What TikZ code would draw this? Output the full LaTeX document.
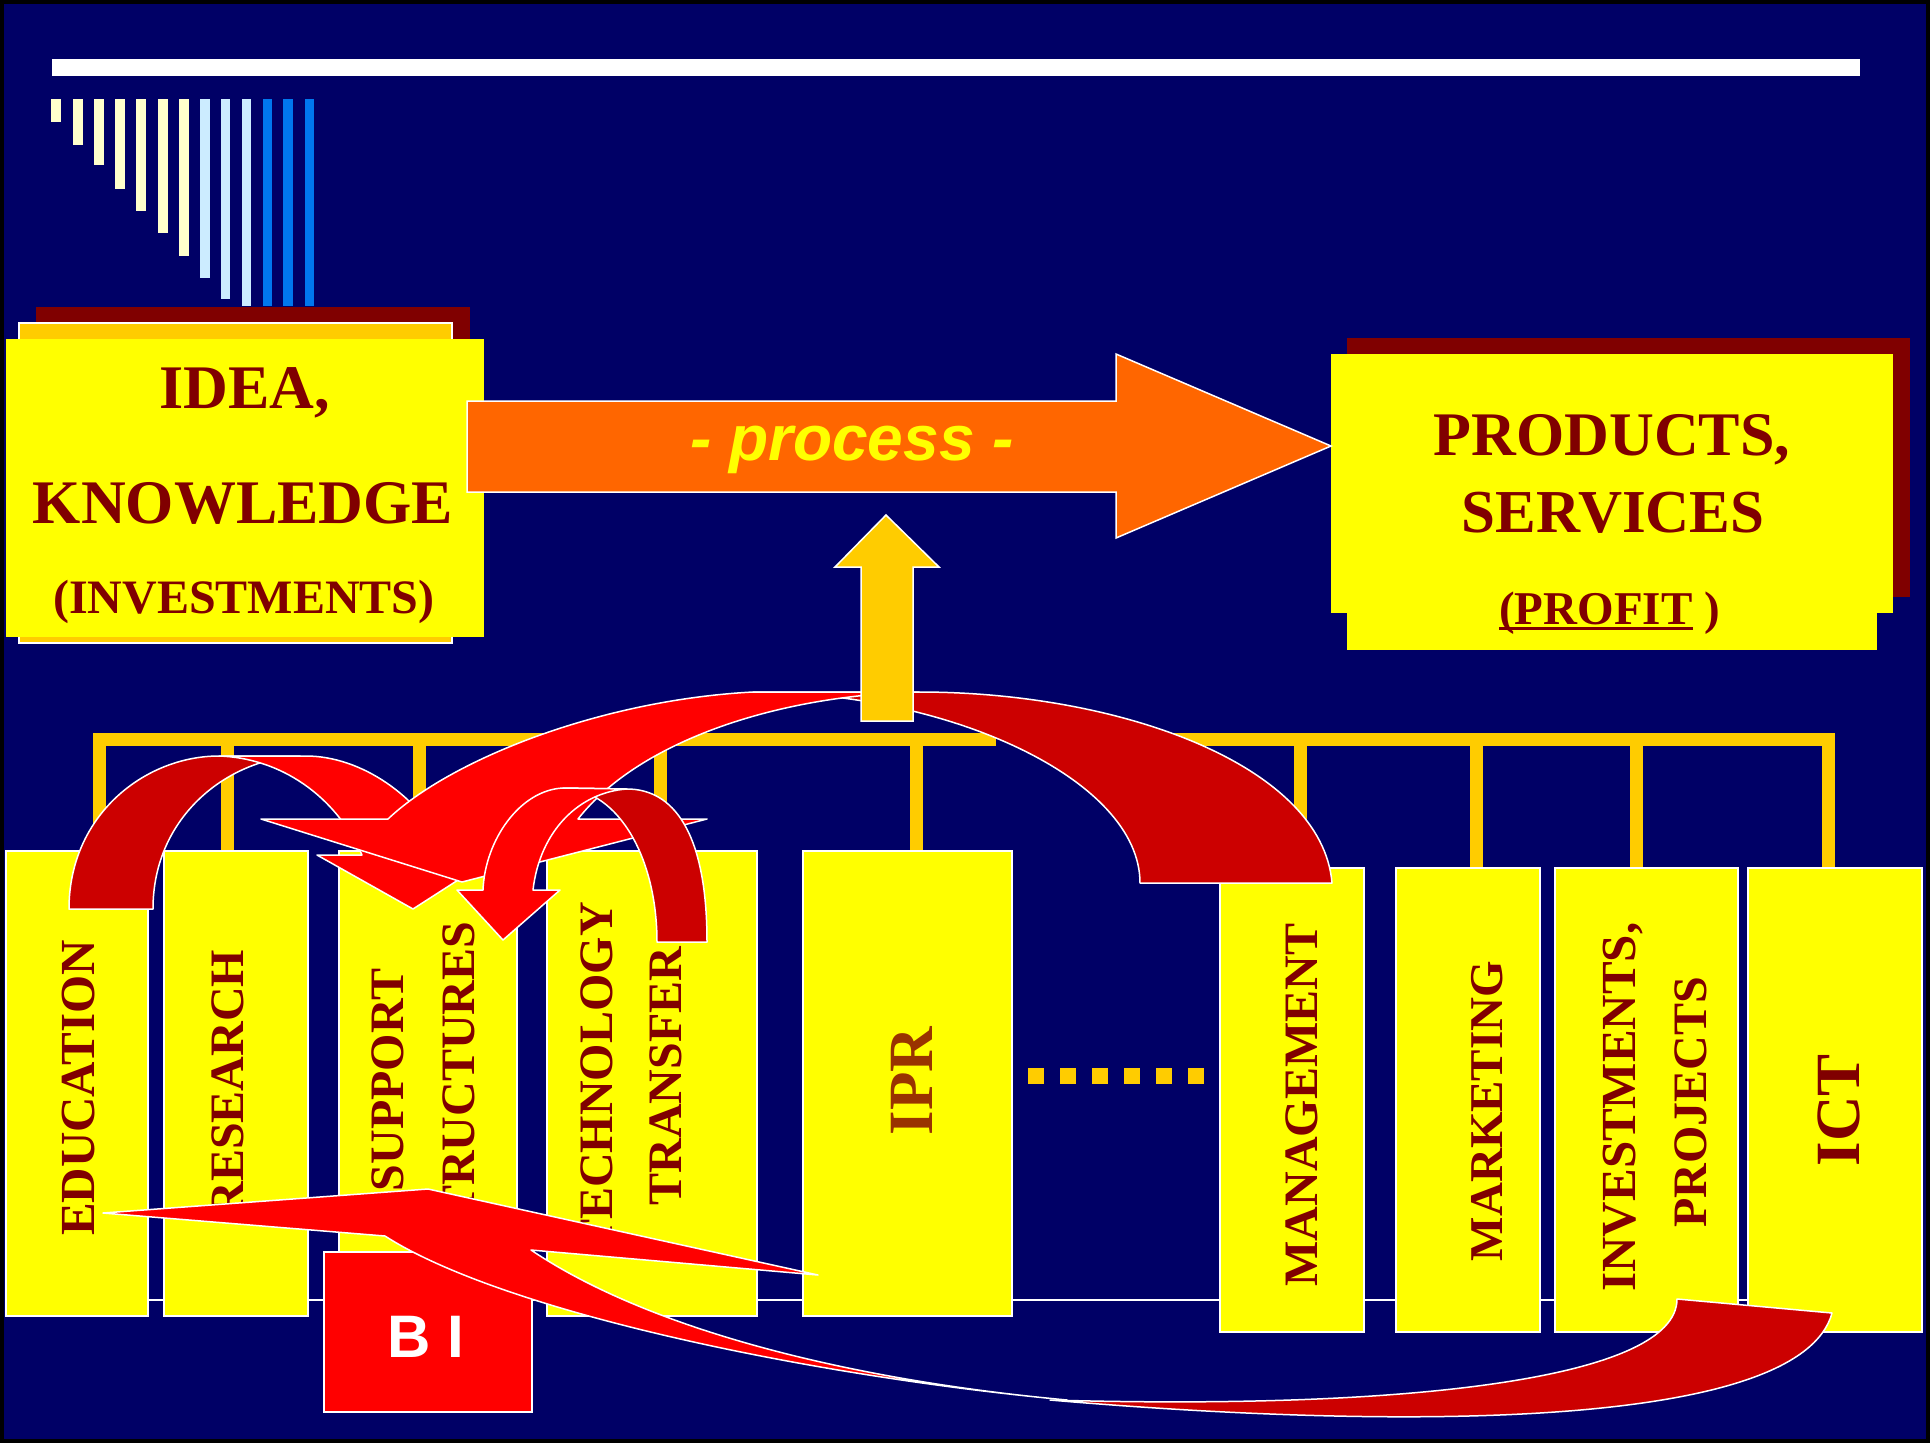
\documentclass[tikz,border=0pt]{standalone}
\usepackage{fontspec}
\setmainfont{Liberation Serif}
\newfontfamily\arialf{Liberation Sans}
\usetikzlibrary{fit}
\definecolor{navy}{HTML}{000066}
\definecolor{yel}{HTML}{FFFF00}
\definecolor{gold}{HTML}{FFCC00}
\definecolor{maroon}{HTML}{800000}
\definecolor{iprbrown}{HTML}{993300}
\definecolor{orng}{HTML}{FF6600}
\definecolor{rbright}{HTML}{FF0000}
\definecolor{rdark}{HTML}{CC0000}
\definecolor{lyel}{HTML}{FFFFCC}
\definecolor{lblue}{HTML}{CCECFF}
\definecolor{mblue}{HTML}{0077EE}
\begin{document}
\begin{tikzpicture}[x=1pt,y=-1pt,
  ybox/.style={fill=yel, draw=white, line width=1.5pt, inner sep=0pt},
  vlab/.style={rotate=90, anchor=base, text=maroon, inner sep=0pt, font=\fontsize{#1}{#1}\selectfont\bfseries},
  ttl/.style={anchor=base, text=maroon, inner sep=0pt, font=\fontsize{#1}{#1}\selectfont\bfseries},
  busv/.style={draw=gold, line width=13pt},
  arrdark/.style={fill=rdark, draw=white, line width=1.5pt, line join=round},
  arrbright/.style={fill=rbright, draw=white, line width=1.5pt, line join=round},
  wline/.style={fill=orng, draw=white, line width=1.5pt}]
\useasboundingbox (0,0) rectangle (1930,1443);
\fill[navy] (0,0) rectangle (1930,1443);
\draw[black, line width=4pt] (2,2) rectangle (1928,1441);

% top bar and vertical bars
\fill[white] (52,59) rectangle (1860,76);
\foreach \xa/\xb/\yb/\c in {51/61/122/lyel, 73/83/145/lyel, 94/104/165/lyel, 115/125/189/lyel,
  136/146/211/lyel, 158/168/233/lyel, 179/189/256/lyel, 200/210/278/lblue, 221/230/299/lblue,
  242/251/306/lblue, 263/272/306/mblue, 283/293/306/mblue, 305/314/306/mblue}
  \fill[\c] (\xa,99) rectangle (\xb,\yb);

% IDEA box
\fill[maroon] (36,307) rectangle (470,600);
\filldraw[fill=gold, draw=white, line width=1.5pt] (19,323) rectangle (452,643);
\node[fill=yel, inner sep=0pt, fit={(6,339) (484,637)}] (idea) {};
\node[ttl=62] (t1) at (245,408) {IDEA,};
\node[ttl=62] (t2) at (243,523) {KNOWLEDGE};
\node[ttl=48] (t3) at (244,613) {(INVESTMENTS)};

% PRODUCTS box
\fill[maroon] (1347,338) rectangle (1910,597);
\fill[yel] (1347,380) rectangle (1877,650);
\node[fill=yel, inner sep=0pt, fit={(1331,354) (1893,613)}] (prod) {};
\node[ttl=62] (p1) at (1612,455) {PRODUCTS,};
\node[ttl=61] (p2) at (1613,532) {SERVICES};
\node[ttl=47, anchor=base west] (pf) at (1499,624) {(PROFIT};
\node[ttl=47, anchor=base west] (pg) at (pf.base east) {\ )};
\draw[maroon, line width=3pt] ([yshift=-4pt]pf.base west) -- ([yshift=-4pt]pf.base east);

% process arrow
\coordinate (ptip) at (1331,446);
\filldraw[wline] (467,401) -- (1116,401) -- (1116,354) -- (ptip) -- (1116,538) -- (1116,492) -- (467,492) -- cycle;
\node[anchor=base, text=yel, inner sep=0pt, font=\arialf\bfseries\itshape\fontsize{64}{64}\selectfont] (proc) at (852,460) {- process -};

% white base line
\draw[white, line width=2pt] (148,1300) -- (1748,1300);

% lower boxes
\node[ybox, fit={(6,851) (148,1316)}] (edu) {};
\node[ybox, fit={(164,851) (308,1316)}] (res) {};
\node[ybox, fit={(339,851) (517,1316)}] (sup) {};
\node[ybox, fit={(547,851) (757,1316)}] (tech) {};
\node[ybox, fit={(803,851) (1012,1316)}] (ipr) {};
\node[ybox, fit={(1220,868) (1364,1332)}] (mgmt) {};
\node[ybox, fit={(1396,868) (1540,1332)}] (mkt) {};
\node[ybox, fit={(1555,868) (1738,1332)}] (inv) {};
\node[ybox, fit={(1748,868) (1922,1332)}] (ict) {};

% bus
\fill[gold] (93,733) rectangle (996,746);
\fill[gold] (1012,733) rectangle (1835,746);
\coordinate (v1) at (99.5,740);
\coordinate (v2) at (227.5,740);
\coordinate (v3) at (419.5,740);
\coordinate (v4) at (660.5,740);
\coordinate (v5) at (916.5,740);
\coordinate (v6) at (1300.5,740);
\coordinate (v7) at (1476.5,740);
\coordinate (v8) at (1636.5,740);
\coordinate (v9) at (1828,740);
\draw[busv] (v1) -- (v1 |- edu.north);
\draw[busv] (v2) -- (v2 |- res.north);
\draw[busv] (v3) -- (v3 |- sup.north);
\draw[busv] (v4) -- (v4 |- tech.north);
\draw[busv] (v5) -- (v5 |- ipr.north);
\draw[busv] (v6) -- (v6 |- mgmt.north);
\draw[busv] (v7) -- (v7 |- mkt.north);
\draw[busv] (v8) -- (v8 |- inv.north);
\draw[busv] (v9) -- (v9 |- ict.north);

% labels
\node[vlab=49] at (94,1088) {EDUCATION};
\node[vlab=48] at (243,1083) {RESEARCH};
\node[vlab=48] at (403,1080) {SUPPORT};
\node[vlab=48] at (474,1083) {STRUCTURES};
\node[vlab=48] at (612,1077) {TECHNOLOGY};
\node[vlab=48] at (681,1076) {TRANSFER};
\node[vlab=63, text=iprbrown] at (932,1081) {IPR};
\node[vlab=48] at (1317,1105) {MANAGEMENT};
\node[vlab=47] at (1502,1111) {MARKETING};
\node[vlab=49] at (1635,1107) {INVESTMENTS,};
\node[vlab=48] at (1706,1102) {PROJECTS};
\node[vlab=63] at (1859,1110) {ICT};

% dots
\foreach \k in {0,...,5} \fill[gold] ({1028+32*\k},1068) rectangle ++(16,16);

% arrow A (education -> support)
\filldraw[arrdark] (69,909) .. controls (69,815) and (145,756) .. (219,756) -- (300,756)
  .. controls (230,758) and (153,815) .. (153,909) -- cycle;
\filldraw[arrbright] (219,756) -- (306,756) .. controls (360,756) and (420,795) .. (448,855)
  -- (497,855) -- (413,909) -- (317,855) -- (362,855)
  .. controls (335,795) and (280,758) .. (219,756) -- cycle;

% arrow B (management -> support/technology)
\filldraw[arrdark] (1332,883) .. controls (1322,765) and (1120,692) .. (919,692) -- (753,692)
  .. controls (950,692) and (1140,780) .. (1140,883) -- cycle;
\filldraw[arrbright] (919,692) -- (753,692) .. controls (600,700) and (450,760) .. (388,819)
  -- (261,819) -- (462,882) -- (707,819) -- (578,819)
  .. controls (640,740) and (780,695) .. (919,692) -- cycle;

% arrow C (technology -> structures)
\filldraw[arrdark] (707,942) .. controls (707,830) and (672,789) .. (627,789) -- (563,788)
  .. controls (620,790) and (657,860) .. (657,942) -- cycle;
\filldraw[arrbright] (627,789) -- (563,788) .. controls (520,790) and (485,840) .. (483,890)
  -- (457,890) -- (503,940) -- (560,890) -- (533,890)
  .. controls (540,830) and (580,792) .. (627,789) -- cycle;

% BI box
\node[fill=rbright, draw=white, line width=1.5pt, inner sep=0pt, fit={(324,1252) (532,1412)}] (bi) {};
\node[anchor=base, text=white, inner sep=0pt, font=\arialf\bfseries\fontsize{60}{60}\selectfont] (bit) at (426,1357) {B I};

% arrow D (ICT -> education)
\filldraw[arrdark] (1050,1400) .. controls (1400,1410) and (1677,1380) .. (1677,1299) -- (1832,1313)
  .. controls (1800,1430) and (1400,1430) .. (1050,1400) -- cycle;
\filldraw[arrbright] (103,1213) -- (428,1189) -- (818,1275) -- (531,1250)
  .. controls (650,1330) and (850,1380) .. (1067,1400)
  .. controls (800,1375) and (500,1310) .. (385,1236) -- cycle;

% up arrow
\filldraw[fill=gold, draw=white, line width=1.5pt] (886,515) -- (939,567) -- (913,567) -- (913,721) -- (861,721) -- (861,567) -- (835,567) -- cycle;
\end{tikzpicture}
\end{document}
